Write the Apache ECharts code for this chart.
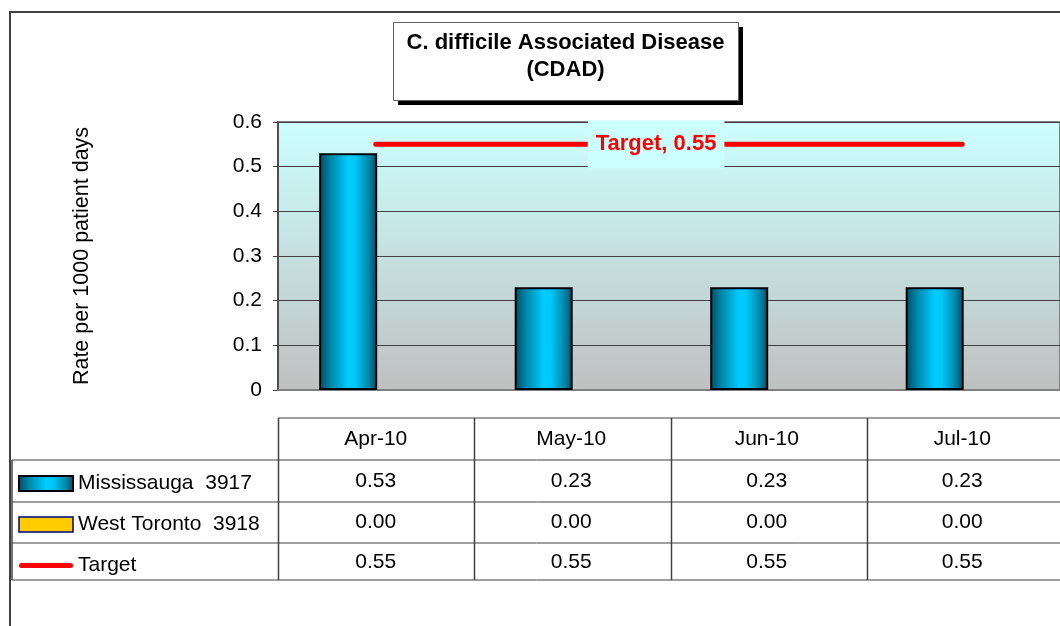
<!DOCTYPE html>
<html>
<head>
<meta charset="utf-8">
<script src="https://cdn.jsdelivr.net/npm/echarts@6/dist/echarts.min.js"></script>
<style>
  html, body { margin: 0; padding: 0; background: #fff; }
  #chart { width: 1060px; height: 626px; }
</style>
</head>
<body>
<div id="chart"></div>
<script>
// data
const categories = ['Apr-10', 'May-10', 'Jun-10', 'Jul-10']
const mississauga = [0.53, 0.23, 0.23, 0.23]
const westToronto = [0.0, 0.0, 0.0, 0.0]
const target = [0.55, 0.55, 0.55, 0.55]
const seriesNames = ['Mississauga  3917', 'West Toronto  3918', 'Target']

const FONT = '"Liberation Sans", Arial, sans-serif'

// plot area (px)
const gridLeft = 278
const gridTop = 122
const gridWidth = 785
const gridHeight = 268
const colW = gridWidth / categories.length

// table rows (px)
const tableTop = 418
const rowLines = [460, 502, 543, 580]
const tableLeft = 12

// title box (px)
const titleBox = { x: 393, y: 22, w: 345, h: 78 }

var chartDom = document.getElementById('chart')
var myChart = echarts.init(chartDom)

var barFill = new echarts.graphic.LinearGradient(0, 0, 1, 0, [
  { offset: 0, color: '#004a62' },
  { offset: 0.2, color: '#0088aa' },
  { offset: 0.5, color: '#00ccff' },
  { offset: 0.62, color: '#00c8f8' },
  { offset: 0.85, color: '#0088aa' },
  { offset: 1, color: '#004a62' }
])

// table lines
var tableLines = []
tableLines.push({
  type: 'line',
  shape: { x1: gridLeft, y1: tableTop, x2: 1100, y2: tableTop },
  style: { stroke: '#404040', lineWidth: 1 }
})
rowLines.forEach(function (y) {
  tableLines.push({
    type: 'line',
    shape: { x1: tableLeft, y1: y, x2: 1100, y2: y },
    style: { stroke: '#404040', lineWidth: 1 }
  })
})
for (var i = 0; i < categories.length; i++) {
  var x = Math.round(gridLeft + i * colW) + 0.5
  tableLines.push({
    type: 'line',
    shape: { x1: x, y1: tableTop, x2: x, y2: rowLines[rowLines.length - 1] },
    style: { stroke: '#404040', lineWidth: 1.5 }
  })
}
tableLines.push({
  type: 'line',
  shape: { x1: tableLeft, y1: rowLines[0], x2: tableLeft, y2: rowLines[rowLines.length - 1] },
  style: { stroke: '#404040', lineWidth: 1.5 }
})

var option = {
  animation: false,
  backgroundColor: '#ffffff',
  textStyle: { fontFamily: FONT },
  title: {
    left: titleBox.x,
    top: 29,
    z: 10,
    padding: 0,
    text: '{a|C. difficile Associated Disease}\n{a|(CDAD)}',
    textStyle: {
      rich: {
        a: {
          width: titleBox.w,
          align: 'center',
          fontFamily: FONT,
          fontWeight: 'bold',
          fontSize: 22,
          lineHeight: 27,
          color: '#000'
        }
      }
    }
  },
  legend: {
    orient: 'vertical',
    left: 18,
    top: 473,
    padding: 0,
    itemWidth: 54,
    itemHeight: 15,
    itemGap: 20,
    icon: 'rect',
    textStyle: { fontFamily: FONT, fontSize: 21, color: '#000' },
    data: [
      { name: seriesNames[0], itemStyle: { borderColor: '#000', borderWidth: 2 } },
      { name: seriesNames[1], itemStyle: { color: '#ffcc00', borderColor: '#000080', borderWidth: 1.5 } },
      {
        name: seriesNames[2],
        icon: 'path://M2.5,0 L51.5,0 A2.5,2.5 0 0 1 51.5,5 L2.5,5 A2.5,2.5 0 0 1 2.5,0 Z',
        itemStyle: { color: '#ff0000', borderWidth: 0 }
      }
    ]
  },
  grid: {
    left: gridLeft,
    top: gridTop,
    width: gridWidth,
    height: gridHeight,
    show: true,
    borderColor: '#808080',
    borderWidth: 2,
    backgroundColor: new echarts.graphic.LinearGradient(0, 0, 0, 1, [
      { offset: 0, color: '#ccffff' },
      { offset: 1, color: '#c0c0c0' }
    ])
  },
  xAxis: {
    type: 'category',
    data: categories,
    axisLine: { lineStyle: { color: '#808080', width: 2 } },
    axisTick: { show: false },
    axisLabel: {
      interval: 0,
      margin: 27,
      formatter: function (value, idx) {
        return '{h|' + value + '}\n{v|' + mississauga[idx].toFixed(2) + '}\n{v|' +
          westToronto[idx].toFixed(2) + '}\n{v|' + target[idx].toFixed(2) + '}'
      },
      rich: {
        h: { fontFamily: FONT, fontSize: 21, color: '#000', lineHeight: 44 },
        v: { fontFamily: FONT, fontSize: 21, color: '#000', lineHeight: 40.5 }
      }
    }
  },
  yAxis: {
    type: 'value',
    min: 0,
    max: 0.6,
    interval: 0.1,
    name: 'Rate per 1000 patient days',
    nameLocation: 'middle',
    nameGap: 185,
    nameTextStyle: { fontFamily: FONT, fontSize: 21.5, color: '#000' },
    axisLine: { show: true, lineStyle: { color: '#505050', width: 2 } },
    axisTick: { show: true, length: 5, lineStyle: { color: '#404040' } },
    axisLabel: { margin: 16, fontFamily: FONT, fontSize: 21, color: '#000' },
    splitLine: { lineStyle: { color: '#404040', width: 1 } }
  },
  series: [
    {
      name: seriesNames[0],
      type: 'bar',
      barWidth: 58,
      barGap: '-5%',
      data: mississauga,
      itemStyle: { color: barFill, borderColor: '#000', borderWidth: 2 }
    },
    {
      name: seriesNames[1],
      type: 'bar',
      barWidth: 58,
      data: westToronto,
      itemStyle: { color: '#ffcc00', borderWidth: 0 }
    },
    {
      name: seriesNames[2],
      type: 'line',
      symbol: 'circle',
      symbolSize: 1,
      showSymbol: true,
      z: 5,
      color: '#ff0000',
      itemStyle: { color: '#ff0000' },
      lineStyle: { color: '#ff0000', width: 5, cap: 'round' },
      data: target.map(function (v, i) {
        if (i !== 1) return v
        return {
          value: v,
          label: {
            show: true,
            position: 'right',
            distance: 16,
            formatter: 'Target, {c}',
            fontFamily: FONT,
            fontSize: 22,
            fontWeight: 'bold',
            color: '#ff0000',
            backgroundColor: '#ccffff',
            padding: [12, 8, 14, 8]
          }
        }
      })
    }
  ],
  graphic: [
    {
      type: 'rect',
      z: 1,
      shape: { x: titleBox.x + 5, y: titleBox.y + 5, width: titleBox.w, height: titleBox.h },
      style: { fill: '#000000' }
    },
    {
      type: 'rect',
      z: 2,
      shape: { x: titleBox.x + 0.5, y: titleBox.y + 0.5, width: titleBox.w, height: titleBox.h },
      style: { fill: '#ffffff', stroke: '#606060', lineWidth: 1 }
    },
    {
      type: 'rect',
      shape: { x: 10, y: 12, width: 1100, height: 700 },
      style: { fill: 'none', stroke: '#404040', lineWidth: 2 },
      z: 100
    }
  ].concat(tableLines)
}

option && myChart.setOption(option)
</script>
</body>
</html>
